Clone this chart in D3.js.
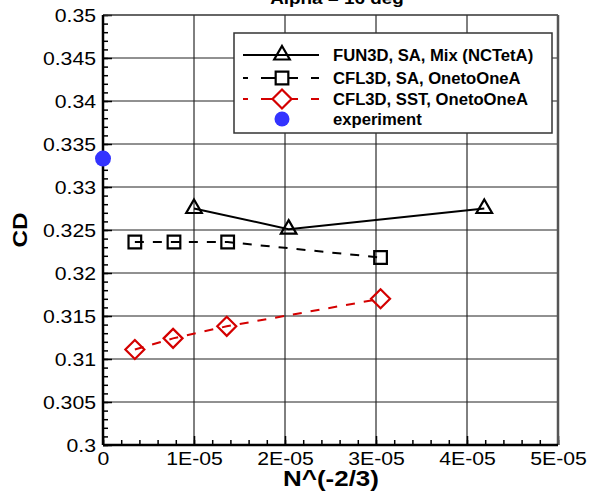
<!DOCTYPE html>
<html>
<head>
<meta charset="utf-8">
<script src="https://cdn.jsdelivr.net/npm/d3@7"></script>
<style>
  html, body { margin: 0; padding: 0; background: #fff; }
  svg { display: block; font-family: Arial, "Liberation Sans", sans-serif; }
</style>
</head>
<body>
<svg id="chart" width="592" height="494"></svg>
<script>
// Drag coefficient vs grid-size parameter N^(-2/3), Alpha = 16 deg
const fun3dX = [1.0e-5, 2.04e-5, 4.19e-5];
const fun3dY = [0.3275, 0.3251, 0.3275];

const cfl3dSaX = [0.35e-5, 0.78e-5, 1.37e-5, 3.05e-5];
const cfl3dSaY = [0.3236, 0.3236, 0.3236, 0.3218];

const cfl3dSstX = [0.35e-5, 0.77e-5, 1.36e-5, 3.05e-5];
const cfl3dSstY = [0.3111, 0.3124, 0.3138, 0.3170];

const experimentX = [0];
const experimentY = [0.3333];

const xTicks = [0, 1e-5, 2e-5, 3e-5, 4e-5, 5e-5];
const xTickLabels = ["0", "1E-05", "2E-05", "3E-05", "4E-05", "5E-05"];
const yTicks = [0.3, 0.305, 0.31, 0.315, 0.32, 0.325, 0.33, 0.335, 0.34, 0.345, 0.35];
const yTickLabels = ["0.3", "0.305", "0.31", "0.315", "0.32", "0.325", "0.33", "0.335", "0.34", "0.345", "0.35"];

const legendLabels = ["FUN3D, SA, Mix (NCTetA)", "CFL3D, SA, OnetoOneA", "CFL3D, SST, OnetoOneA", "experiment"];

const svg = d3.select("#chart");
const L = 103, R = 558, T = 15, B = 445;
const SX = 1.18; // horizontal widening of the lettering

const x = d3.scaleLinear().domain([0, 5e-5]).range([L, R]);
const y = d3.scaleLinear().domain([0.3, 0.35]).range([B, T]);

// grid lines
const grid = svg.append("g");
grid.selectAll("line.vg").data(xTicks.slice(1, -1)).join("line")
  .attr("x1", d => x(d)).attr("x2", d => x(d)).attr("y1", T).attr("y2", B)
  .attr("stroke", "#000").attr("stroke-width", 1);
grid.selectAll("line.hg").data(yTicks.slice(1, -1)).join("line")
  .attr("x1", L).attr("x2", R).attr("y1", d => y(d)).attr("y2", d => y(d))
  .attr("stroke", "#222").attr("stroke-width", 1);

// axes with inward ticks
const yMinor = d3.range(0, 51).map(i => 0.3 + i * 0.001);
const xMinor = d3.range(0, 26).map(i => i * 2e-6);

const yAxis = d3.axisLeft(y).tickValues(yTicks).tickFormat((d, i) => yTickLabels[i]).tickSize(-9);
const yAxisMinor = d3.axisLeft(y).tickValues(yMinor).tickFormat("").tickSize(-5);
const xAxis = d3.axisBottom(x).tickValues(xTicks).tickFormat((d, i) => xTickLabels[i]).tickSize(-9);
const xAxisMinor = d3.axisBottom(x).tickValues(xMinor).tickFormat("").tickSize(-5);

function styleAxis(g) {
  g.select(".domain").remove();
  g.selectAll(".tick line").attr("stroke", "#000").attr("stroke-width", 1.5);
  g.selectAll(".tick text").attr("fill", "#000").attr("font-size", 18)
    .attr("font-family", "Arial, 'Liberation Sans', sans-serif");
}
svg.append("g").attr("transform", `translate(${L},0)`).call(yAxisMinor).call(styleAxis);
svg.append("g").attr("transform", `translate(${L},0)`).call(yAxis).call(styleAxis)
  .selectAll(".tick text").attr("x", 0).attr("dy", "0.35em")
  .attr("transform", `translate(-7,0) scale(${SX},1)`);
svg.append("g").attr("transform", `translate(0,${B})`).call(xAxisMinor).call(styleAxis);
svg.append("g").attr("transform", `translate(0,${B})`).call(xAxis).call(styleAxis)
  .selectAll(".tick text").attr("y", 0).attr("dy", "0.71em")
  .attr("transform", `translate(0,7) scale(${SX},1)`);

// frame
svg.append("line").attr("x1", L).attr("x2", R).attr("y1", T).attr("y2", T).attr("stroke", "#333").attr("stroke-width", 1.5);
svg.append("line").attr("x1", R).attr("x2", R).attr("y1", T).attr("y2", B).attr("stroke", "#555").attr("stroke-width", 2.5);
svg.append("line").attr("x1", L).attr("x2", L).attr("y1", T).attr("y2", B).attr("stroke", "#000").attr("stroke-width", 2.5);
svg.append("line").attr("x1", L).attr("x2", R).attr("y1", B).attr("y2", B).attr("stroke", "#000").attr("stroke-width", 2.5);

// titles
svg.append("text").attr("transform", `translate(337,4) scale(${SX},1)`).attr("text-anchor", "middle")
  .attr("font-size", 16).attr("font-weight", "bold").text("Alpha = 16 deg");
svg.append("text").attr("transform", `translate(331,486) scale(${SX},1)`).attr("text-anchor", "middle")
  .attr("font-size", 22).attr("font-weight", "bold").text("N^(-2/3)");
svg.append("text").attr("transform", "translate(27,230) rotate(-90)").attr("text-anchor", "middle")
  .attr("font-size", 20).attr("font-weight", "bold")
  .attr("textLength", 35).attr("lengthAdjust", "spacingAndGlyphs").text("CD");

// marker shapes
const triPath = d3.symbol().type(d3.symbolTriangle).size(105);
const sqPath = d3.symbol().type(d3.symbolSquare).size(160);
function diamondPath(s) { return `M0,${-s}L${s},0L0,${s}L${-s},0Z`; }

const lineGen = d3.line();

function drawSeries(xs, ys, color, dash, markerFn) {
  const pts = xs.map((v, i) => [x(v), y(ys[i])]);
  svg.append("path").attr("d", lineGen(pts)).attr("fill", "none")
    .attr("stroke", color).attr("stroke-width", 2).attr("stroke-dasharray", dash);
  svg.selectAll(null).data(pts).join("path")
    .attr("transform", d => `translate(${d[0]},${d[1]})`)
    .attr("d", markerFn).attr("fill", "none").attr("stroke", color).attr("stroke-width", 2.2);
}

drawSeries(fun3dX, fun3dY, "#000", null, () => triPath());
drawSeries(cfl3dSaX, cfl3dSaY, "#000", "9,9", () => sqPath());
drawSeries(cfl3dSstX, cfl3dSstY, "#d40000", "9,9", () => diamondPath(9.5));

svg.selectAll(null).data(experimentX).join("circle")
  .attr("cx", d => x(d)).attr("cy", (d, i) => y(experimentY[i])).attr("r", 8)
  .attr("fill", "#3333ff");

// legend
const lg = svg.append("g");
lg.append("rect").attr("x", 234).attr("y", 33).attr("width", 318).attr("height", 100)
  .attr("fill", "#fff").attr("stroke", "#333").attr("stroke-width", 1.5);
const rowY = [55, 78, 99, 119];
const lx1 = 243, lx2 = 319, lm = 282;
// row 1
lg.append("line").attr("x1", lx1).attr("x2", lx2).attr("y1", rowY[0]).attr("y2", rowY[0]).attr("stroke", "#000").attr("stroke-width", 2);
lg.append("path").attr("transform", `translate(${lm},${rowY[0]})`).attr("d", triPath()).attr("fill", "none").attr("stroke", "#000").attr("stroke-width", 2.2);
// row 2
lg.append("line").attr("x1", lx1).attr("x2", lx2).attr("y1", rowY[1]).attr("y2", rowY[1]).attr("stroke", "#000").attr("stroke-width", 2).attr("stroke-dasharray", "5,13,14,13,5,0");
lg.append("path").attr("transform", `translate(${lm},${rowY[1]})`).attr("d", sqPath()).attr("fill", "#fff").attr("stroke", "#000").attr("stroke-width", 2.2);
// row 3
lg.append("line").attr("x1", lx1).attr("x2", lx2).attr("y1", rowY[2]).attr("y2", rowY[2]).attr("stroke", "#d40000").attr("stroke-width", 2).attr("stroke-dasharray", "5,13,14,13,5,0");
lg.append("path").attr("transform", `translate(${lm},${rowY[2]})`).attr("d", diamondPath(9.5)).attr("fill", "#fff").attr("stroke", "#d40000").attr("stroke-width", 2.2);
// row 4
lg.append("circle").attr("cx", lm).attr("cy", rowY[3]).attr("r", 7.5).attr("fill", "#3333ff");

lg.selectAll("text").data(legendLabels).join("text")
  .attr("transform", (d, i) => `translate(333,${rowY[i]}) scale(1.04,1)`).attr("dy", "0.35em")
  .attr("font-size", 16).attr("font-weight", "bold").text(d => d);
</script>
</body>
</html>
